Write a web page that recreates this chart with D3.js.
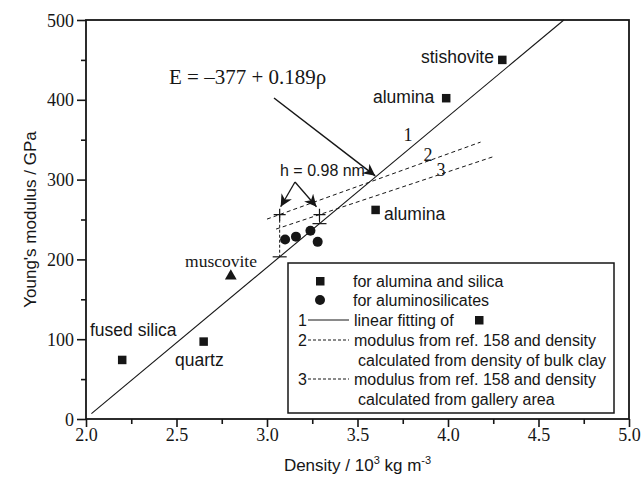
<!DOCTYPE html>
<html>
<head>
<meta charset="utf-8">
<script src="https://cdn.jsdelivr.net/npm/d3@7/dist/d3.min.js"></script>
<style>
  body { margin: 0; background: #fff; }
  svg { display: block; }
  .sans { font-family: "Liberation Sans", Arial, sans-serif; }
  .serif { font-family: "Liberation Serif", "Times New Roman", serif; }
</style>
</head>
<body>
<svg id="chart" width="644" height="484"></svg>
<script>
// Reference materials (density in 10^3 kg m^-3, Young's modulus in GPa)
const squareNames   = ["fused silica", "quartz", "alumina", "alumina", "stishovite"];
const squareDensity = [2.20, 2.65, 3.60, 3.99, 4.30];
const squareModulus = [74, 97, 262, 402, 450];

const triangleName    = ["muscovite"];
const triangleDensity = [2.80];
const triangleModulus = [179];

// Aluminosilicates
const circleDensity = [3.10, 3.16, 3.24, 3.28];
const circleModulus = [225, 228.5, 236, 222];

// Fit 1: E = -377 + 0.189 rho (rho in kg m^-3)
const fitIntercept = -377;
const fitSlope = 0.189;
const fitDensityRange = [2.03, 4.64];

// Lines 2 and 3: modulus from ref. 158 vs calculated density
const line2Density = [3.00, 4.18];
const line2Modulus = [250.5, 347];
const line3Density = [3.05, 4.25];
const line3Modulus = [238, 328.7];

// h = 0.98 nm points (on lines 2/3) and their counterparts on fit 1
const hDensity = [3.07, 3.29];
const hModulus = [256, 256];

const xTicks = [2.0, 2.5, 3.0, 3.5, 4.0, 4.5, 5.0];
const xMinorTicks = [2.25, 2.75, 3.25, 3.75, 4.25, 4.75];
const yTicks = [0, 100, 200, 300, 400, 500];
const yMinorTicks = [50, 150, 250, 350, 450];

const ink = "#161616";
const svg = d3.select("#chart");
const x = d3.scaleLinear().domain([2, 5]).range([86, 629]);
const y = d3.scaleLinear().domain([0, 500]).range([419, 20]);
const fit = d => fitIntercept + fitSlope * d * 1000;

// Axes
const gx = svg.append("g").attr("transform", `translate(0,${y(0)})`);
gx.call(d3.axisBottom(x).tickValues(xTicks).tickSize(8).tickFormat(d3.format(".1f")));
gx.append("g").call(d3.axisBottom(x).tickValues(xMinorTicks).tickSize(5).tickFormat(""));
const gy = svg.append("g").attr("transform", `translate(${x(2)},0)`);
gy.call(d3.axisLeft(y).tickValues(yTicks).tickSize(9).tickFormat(d3.format("d")));
gy.append("g").call(d3.axisLeft(y).tickValues(yMinorTicks).tickSize(5).tickFormat(""));
svg.selectAll(".domain").remove();
svg.selectAll(".tick line").attr("stroke", ink).attr("stroke-width", 1.6);
svg.selectAll(".tick text")
  .attr("class", "serif").attr("font-size", 18).attr("fill", ink);
gx.selectAll(".tick text").attr("dy", "0.55em").attr("y", 12);
gy.selectAll(".tick text").attr("x", -12).attr("dy", "0.34em");

// Frame
svg.append("rect")
  .attr("x", x(2)).attr("y", y(500))
  .attr("width", x(5) - x(2)).attr("height", y(0) - y(500))
  .attr("fill", "none").attr("stroke", ink).attr("stroke-width", 1.8);

// Axis titles
const xt = svg.append("text").attr("class", "sans").attr("font-size", 17).attr("fill", ink)
  .attr("x", (x(2) + x(5)) / 2).attr("y", 471).attr("text-anchor", "middle");
xt.append("tspan").text("Density / 10");
xt.append("tspan").attr("font-size", 11).attr("dy", -7).text("3");
xt.append("tspan").attr("dy", 7).text(" kg m");
xt.append("tspan").attr("font-size", 11).attr("dy", -7).text("-3");

svg.append("text").attr("class", "sans").attr("font-size", 17).attr("fill", ink)
  .attr("transform", `translate(36,${(y(0) + y(500)) / 2}) rotate(-90)`)
  .attr("text-anchor", "middle").text("Young's modulus / GPa");

// Fit line 1
const line = d3.line().x(d => x(d[0])).y(d => y(d[1]));
svg.append("path")
  .datum(fitDensityRange.map(d => [d, fit(d)]))
  .attr("d", line).attr("fill", "none").attr("stroke", ink).attr("stroke-width", 1.1);

// Dashed lines 2 and 3
[[line2Density, line2Modulus], [line3Density, line3Modulus]].forEach(([ds, ms]) => {
  svg.append("path")
    .datum(ds.map((d, i) => [d, ms[i]]))
    .attr("d", line).attr("fill", "none").attr("stroke", ink)
    .attr("stroke-width", 1).attr("stroke-dasharray", "4,3");
});

// h = 0.98 nm markers: vertical dotted link, cross on line 2/3, bar on fit 1
hDensity.forEach((d, i) => {
  const px = x(d), pTop = y(hModulus[i]), pBot = y(fit(d));
  svg.append("line").attr("x1", px).attr("x2", px).attr("y1", pTop).attr("y2", pBot)
    .attr("stroke", ink).attr("stroke-width", 1).attr("stroke-dasharray", "3,2");
  svg.append("path").attr("d", `M${px - 6},${pTop}H${px + 6}M${px},${pTop - 6}V${pTop + 6}`)
    .attr("stroke", ink).attr("stroke-width", 1.2);
  svg.append("path").attr("d", `M${px - 7},${pBot}H${px + 7}`)
    .attr("stroke", ink).attr("stroke-width", 1.2);
});

// Arrowhead marker
svg.append("defs").append("marker")
  .attr("id", "head").attr("viewBox", "0 0 10 10").attr("refX", 10).attr("refY", 5)
  .attr("markerWidth", 12).attr("markerHeight", 12).attr("markerUnits", "userSpaceOnUse")
  .attr("orient", "auto")
  .append("path").attr("d", "M0,0L10,5L0,10L3,5Z").attr("fill", ink);

// "h = 0.98 nm" annotation
svg.append("text").attr("class", "sans").attr("font-size", 16).attr("fill", ink)
  .attr("x", 280).attr("y", 176).text("h = 0.98 nm");
const apex = [295, 182];
hDensity.forEach((d, i) => {
  const tx = x(d) + (i === 0 ? 1 : -3), ty = y(hModulus[i]) - 8;
  svg.append("line").attr("x1", apex[0]).attr("y1", apex[1]).attr("x2", tx).attr("y2", ty)
    .attr("stroke", ink).attr("stroke-width", 1.3).attr("marker-end", "url(#head)");
});

// Equation and arrow to the fit line
svg.append("text").attr("class", "serif").attr("font-size", 21).attr("fill", ink)
  .attr("x", 169).attr("y", 84).text("E = \u2013377 + 0.189\u03c1");
svg.append("line").attr("x1", 274).attr("y1", 98).attr("x2", x(3.62) - 4).attr("y2", y(fit(3.62)) + 2)
  .attr("stroke", ink).attr("stroke-width", 1.5).attr("marker-end", "url(#head)");

// Line number labels
[["1", 408, 141], ["2", 428, 161], ["3", 441, 176]].forEach(([t, lx, ly]) => {
  svg.append("text").attr("class", "serif").attr("font-size", 18).attr("fill", ink)
    .attr("x", lx).attr("y", ly).attr("text-anchor", "middle").text(t);
});

// Markers
const sq = 8.5;
svg.append("g").selectAll("rect").data(squareDensity).join("rect")
  .attr("x", (d) => x(d) - sq / 2).attr("y", (d, i) => y(squareModulus[i]) - sq / 2)
  .attr("width", sq).attr("height", sq).attr("fill", ink);
svg.append("g").selectAll("circle").data(circleDensity).join("circle")
  .attr("cx", d => x(d)).attr("cy", (d, i) => y(circleModulus[i])).attr("r", 5).attr("fill", ink);
svg.append("g").selectAll("path").data(triangleDensity).join("path")
  .attr("transform", (d, i) => `translate(${x(d)},${y(triangleModulus[i])})`)
  .attr("d", d3.symbol(d3.symbolTriangle, 60)).attr("fill", ink);

// Point labels
const labelPos = [[90, 336], [175, 366], [384, 220], [373, 103], [421, 63]];
squareNames.forEach((n, i) => {
  svg.append("text").attr("class", "sans").attr("font-size", 17.5).attr("fill", ink)
    .attr("x", labelPos[i][0]).attr("y", labelPos[i][1]).text(n);
});
svg.append("text").attr("class", "serif").attr("font-size", 17.5).attr("fill", ink)
  .attr("x", 221).attr("y", 267).attr("text-anchor", "middle").text(triangleName[0]);

// Legend
const lg = svg.append("g").attr("class", "sans").attr("font-size", 16).attr("fill", ink);
lg.append("rect").attr("x", 288).attr("y", 263).attr("width", 326).attr("height", 150)
  .attr("fill", "#fff").attr("stroke", ink).attr("stroke-width", 1.5);
lg.append("rect").attr("x", 316).attr("y", 277).attr("width", sq).attr("height", sq).attr("fill", ink);
lg.append("text").attr("x", 353).attr("y", 287).text("for alumina and silica");
lg.append("circle").attr("cx", 320).attr("cy", 300).attr("r", 5).attr("fill", ink);
lg.append("text").attr("x", 353).attr("y", 306).text("for aluminosilicates");

const legendLines = [
  { n: "1", y: 320, dash: null, rows: ["linear fitting of"] },
  { n: "2", y: 340, dash: "3,2", rows: ["modulus from ref. 158 and density", "calculated from density of bulk clay"] },
  { n: "3", y: 379, dash: "3,2", rows: ["modulus from ref. 158 and density", "calculated from gallery area"] }
];
legendLines.forEach(e => {
  lg.append("text").attr("x", 307).attr("y", e.y + 6).attr("text-anchor", "end").text(e.n);
  lg.append("line").attr("x1", 308).attr("x2", 349).attr("y1", e.y).attr("y2", e.y)
    .attr("stroke", ink).attr("stroke-width", 1).attr("stroke-dasharray", e.dash);
  e.rows.forEach((r, k) => {
    lg.append("text").attr("x", k === 0 ? 354 : 358).attr("y", e.y + 6 + k * 19.5).text(r);
  });
});
lg.append("rect").attr("x", 475).attr("y", 316).attr("width", sq).attr("height", sq).attr("fill", ink);
</script>
</body>
</html>
